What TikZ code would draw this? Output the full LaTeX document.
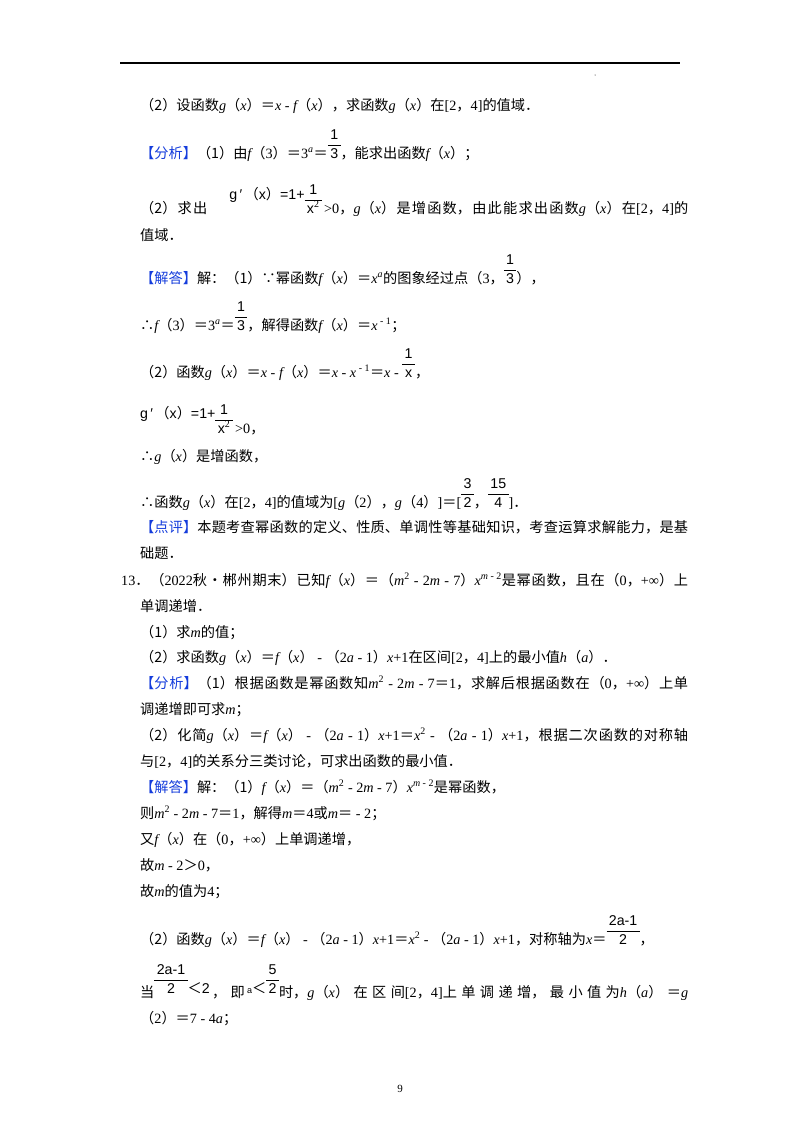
\documentclass[tikz,border=0pt]{standalone}
\usepackage{fontspec}
\setmainfont{Noto Sans CJK SC}
\newfontfamily\tmf{Liberation Serif}
\newfontfamily\eqf{Liberation Sans}
\XeTeXlinebreaklocale "zh"
\XeTeXlinebreakskip=0pt plus 2pt
\definecolor{hdblue}{RGB}{20,60,220}
\newcommand\T[1]{{\tmf #1}}
\newcommand\I[1]{{\tmf\itshape #1}}
\newcommand\B[1]{{\color{hdblue}#1}}
\newcommand\fr[2]{{\eqf\renewcommand\arraystretch{1.05}\begin{tabular}[b]{@{\,}c@{\,}}#1\\\hline #2\end{tabular}}}
\newcommand\J[1]{\parbox[b]{548pt}{\tolerance=9999\parfillskip=0pt\noindent #1}}
\newcommand\sq{\textsuperscript{\T{2}}}
\newcommand\gp{{\eqf g\,′\,}（{\eqf x}）{\eqf =1+}}
\tikzset{ln/.style={anchor=base west,inner sep=0pt,font=\fontsize{14.2}{17}\selectfont}}
\begin{document}
\begin{tikzpicture}[x=1pt,y=-1pt]
\useasboundingbox[fill=white] (0,0) rectangle (800,1132);
\draw[line width=1.3pt] (120,63) -- (680,63);
\fill (595,75) circle (0.5);
\node[ln] (l1) at (140,110) {（2）设函数\I{g}（\I{x}）＝\I{x}\T{ - }\I{f}（\I{x}），求函数\I{g}（\I{x}）在\T{[2}，\T{4]}的值域．};
\node[ln] (l2) at (140,158) {\B{【分析】}（1）由\I{f}（\T{3}）＝\T{3}\textsuperscript{\I{a}}＝\fr{1}{3}，能求出函数\I{f}（\I{x}）；};
\node[ln] (l3) at (140,213) {\J{（2）求出\hspace{22pt}\raisebox{14pt}{\gp}\fr{1}{x\sq}\T{\,>0}，\I{g}（\I{x}）是增函数，由此能求出函数\I{g}（\I{x}）在\T{[2}，\T{4]}的}};
\node[ln] (l4) at (140,240) {值域．};
\node[ln] (l5) at (140,283) {\B{【解答】}解：（1）∵幂函数\I{f}（\I{x}）＝\I{x}\textsuperscript{\I{a}}的图象经过点（\T{3}，\fr{1}{3}），};
\node[ln] (l6) at (140,330) {∴\I{f}（\T{3}）＝\T{3}\textsuperscript{\I{a}}＝\fr{1}{3}，解得函数\I{f}（\I{x}）＝\I{x}\textsuperscript{\T{ - 1}}；};
\node[ln] (l7) at (140,377) {（2）函数\I{g}（\I{x}）＝\I{x}\T{ - }\I{f}（\I{x}）＝\I{x}\T{ - }\I{x}\textsuperscript{\T{ - 1}}＝\I{x}\T{ - }\fr{1}{x}，};
\node[ln] (l8) at (140,433) {\raisebox{15pt}{\gp}\fr{1}{x\sq}\T{\,>0}，};
\node[ln] (l9) at (140,461) {∴\I{g}（\I{x}）是增函数，};
\node[ln] (l10) at (140,507) {∴函数\I{g}（\I{x}）在\T{[2}，\T{4]}的值域为\T{[}\I{g}（\T{2}），\I{g}（\T{4}）\T{]}＝\T{[}\fr{3}{2}，\fr{15}{4}\T{]}．};
\node[ln] (l11) at (140,532) {\J{\B{【点评】}本题考查幂函数的定义、性质、单调性等基础知识，考查运算求解能力，是基}};
\node[ln] (l12) at (140,558) {础题．};
\node[ln] (l13) at (121,585) {\parbox[b]{567pt}{\tolerance=9999\parfillskip=0pt\noindent\T{13}．（\T{2022}秋•郴州期末）已知\I{f}（\I{x}）＝（\I{m}\sq\T{ - 2}\I{m}\T{ - 7}）\I{x}\textsuperscript{\I{m}\T{ - 2}}是幂函数，且在（\T{0}，\T{+∞}）上}};
\node[ln] (l14) at (140,611) {单调递增．};
\node[ln] (l15) at (140,637) {（1）求\I{m}的值；};
\node[ln] (l16) at (140,662) {（2）求函数\I{g}（\I{x}）＝\I{f}（\I{x}）\T{ - }（\T{2}\I{a}\T{ - 1}）\I{x}\T{+1}在区间\T{[2}，\T{4]}上的最小值\I{h}（\I{a}）．};
\node[ln] (l17) at (140,688) {\J{\B{【分析】}（1）根据函数是幂函数知\I{m}\sq\T{ - 2}\I{m}\T{ - 7}＝\T{1}，求解后根据函数在（\T{0}，\T{+∞}）上单}};
\node[ln] (l18) at (140,714) {调递增即可求\I{m}；};
\node[ln] (l19) at (140,740) {\J{（2）化简\I{g}（\I{x}）＝\I{f}（\I{x}）\T{ - }（\T{2}\I{a}\T{ - 1}）\I{x}\T{+1}＝\I{x}\sq\T{ - }（\T{2}\I{a}\T{ - 1}）\I{x}\T{+1}，根据二次函数的对称轴}};
\node[ln] (l20) at (140,766) {与\T{[2}，\T{4]}的关系分三类讨论，可求出函数的最小值．};
\node[ln] (l21) at (140,792) {\B{【解答】}解：（1）\I{f}（\I{x}）＝（\I{m}\sq\T{ - 2}\I{m}\T{ - 7}）\I{x}\textsuperscript{\I{m}\T{ - 2}}是幂函数，};
\node[ln] (l22) at (140,818) {则\I{m}\sq\T{ - 2}\I{m}\T{ - 7}＝\T{1}，解得\I{m}＝\T{4}或\I{m}＝\T{ - 2}；};
\node[ln] (l23) at (140,844) {又\I{f}（\I{x}）在（\T{0}，\T{+∞}）上单调递增，};
\node[ln] (l24) at (140,870) {故\I{m}\T{ - 2}＞\T{0}，};
\node[ln] (l25) at (140,896) {故\I{m}的值为\T{4}；};
\node[ln] (l26) at (140,944) {（2）函数\I{g}（\I{x}）＝\I{f}（\I{x}）\T{ - }（\T{2}\I{a}\T{ - 1}）\I{x}\T{+1}＝\I{x}\sq\T{ - }（\T{2}\I{a}\T{ - 1}）\I{x}\T{+1}，对称轴为\I{x}＝\fr{2a-1}{2}，};
\node[ln] (l27) at (140,997) {\J{当\raisebox{4pt}{\fr{2a-1}{2}＜{\eqf 2}}\,，即\,\raisebox{4pt}{{\eqf\small a}＜\fr{5}{2}}时，\I{g}（\I{x}）在区间\T{[2}，\T{4]}上单调递增，最小值为\I{h}（\I{a}）＝\I{g}}};
\node[ln] (l28) at (140,1023) {（\T{2}）＝\T{7 - 4}\I{a}；};
\node[anchor=base,inner sep=0pt,font=\fontsize{11}{13}\selectfont] (pg) at (400,1092) {\T{9}};
\end{tikzpicture}
\end{document}
